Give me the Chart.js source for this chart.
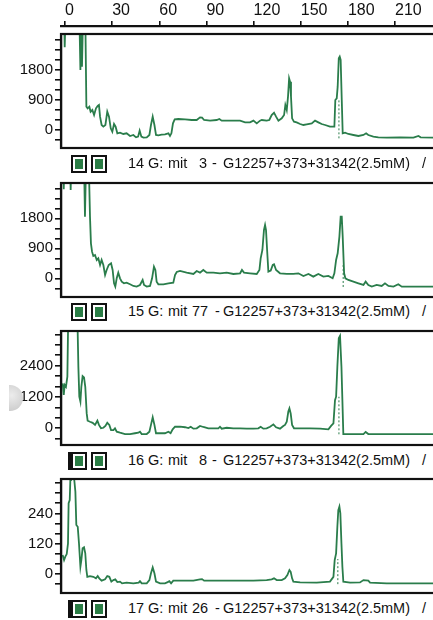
<!DOCTYPE html>
<html>
<head>
<meta charset="utf-8">
<script src="https://cdn.jsdelivr.net/npm/chart.js@4.4.1/dist/chart.umd.min.js"></script>
<style>
  html, body { margin: 0; padding: 0; background: #fff; overflow: hidden; width: 433px; height: 620px; }
  canvas { position: absolute; left: 0; }
  .sq { position: absolute; width: 16px; height: 18px; box-sizing: border-box; border: 2px solid #111;
        background: #2a7d45; box-shadow: inset 0 0 0 2px #fff; }
  .sq.dbl { border-left: 5px solid #111; width: 19px; left: 68px !important; }
  .t { position: absolute; font-family: "Liberation Sans", Arial, sans-serif; font-size: 14.5px;
       white-space: pre; color: #111; line-height: 17px; }
  #hole { position: absolute; left: 9px; top: 385px; width: 14px; height: 26px; border-radius: 0 13px 13px 0;
          background: radial-gradient(circle at 20% 40%, #ececec, #c6c6c6); }
</style>
</head>
<body>
<canvas id="axis" width="480" height="40" style="top:0px"></canvas>
<canvas id="c14" width="480" height="122" style="top:30px"></canvas>
<canvas id="c15" width="480" height="122" style="top:179px"></canvas>
<canvas id="c16" width="480" height="122" style="top:327px"></canvas>
<canvas id="c17" width="480" height="122" style="top:475px"></canvas>

<div class="sq" style="left:71px;top:155px"></div><div class="sq" style="left:91px;top:155px"></div>
<div class="t" style="top:155px;left:128px">14</div><div class="t" style="top:155px;left:148px">G:</div>
<div class="t" style="top:155px;left:168px">mit</div><div class="t" style="top:155px;left:199px">3</div>
<div class="t" style="top:155px;left:212px">-</div><div class="t" style="top:155px;left:223px">G12257+373+31342(2.5mM)</div>
<div class="t" style="top:155px;left:422px">/</div>

<div class="sq" style="left:71px;top:303px"></div><div class="sq" style="left:91px;top:303px"></div>
<div class="t" style="top:303px;left:128px">15</div><div class="t" style="top:303px;left:148px">G:</div>
<div class="t" style="top:303px;left:168px">mit</div><div class="t" style="top:303px;left:192px">77</div>
<div class="t" style="top:303px;left:215px">-</div><div class="t" style="top:303px;left:223px">G12257+373+31342(2.5mM)</div>
<div class="t" style="top:303px;left:422px">/</div>

<div class="sq dbl" style="left:71px;top:452px"></div><div class="sq" style="left:91px;top:452px"></div>
<div class="t" style="top:452px;left:128px">16</div><div class="t" style="top:452px;left:148px">G:</div>
<div class="t" style="top:452px;left:168px">mit</div><div class="t" style="top:452px;left:199px">8</div>
<div class="t" style="top:452px;left:212px">-</div><div class="t" style="top:452px;left:223px">G12257+373+31342(2.5mM)</div>
<div class="t" style="top:452px;left:422px">/</div>

<div class="sq dbl" style="left:71px;top:600px"></div><div class="sq" style="left:91px;top:600px"></div>
<div class="t" style="top:600px;left:128px">17</div><div class="t" style="top:600px;left:148px">G:</div>
<div class="t" style="top:600px;left:168px">mit</div><div class="t" style="top:600px;left:192px">26</div>
<div class="t" style="top:600px;left:215px">-</div><div class="t" style="top:600px;left:223px">G12257+373+31342(2.5mM)</div>
<div class="t" style="top:600px;left:422px">/</div>
<div id="hole"></div>

<script>
// size axis (shared by all lanes)
var sizeTicks = [0, 30, 60, 90, 120, 150, 180, 210, 240];
var xMin = -2.55, xMax = 257.7;
var traceColor = '#2a7d4b';

// lane 14 : mit 3
var lane14X = [-1.5,-0.6,-0.2,0.4,9.1,9.8,10.4,10.8,11.5,12.9,13.6,14.4,15.5,16.3,17.4,18.5,19.7,20.8,21.6,22.3,23.3,24.4,25.7,26.9,28.0,29.1,30.1,31.2,32.2,33.3,35.0,37.1,39.2,41.4,43.5,45.2,46.5,47.5,48.6,49.9,52.0,53.7,54.7,55.8,56.9,57.9,59.4,61.5,63.6,65.8,66.8,67.7,68.7,69.8,72.1,76.4,80.6,83.8,85.9,87.2,88.5,92.3,96.5,98.2,99.7,105.0,111.4,114.6,117.7,119.9,122.0,124.1,125.2,128.3,130.0,131.5,133.0,134.3,135.8,137.9,139.4,140.2,141.1,141.9,142.6,143.2,143.8,144.5,145.7,147.4,149.6,151.7,153.8,157.0,159.1,161.2,163.3,165.5,168.6,171.4,172.0,172.9,173.5,174.2,174.8,175.4,176.1,176.7,178.2,180.3,183.5,186.7,189.9,191.6,193.0,196.2,199.4,204.7,213.2,221.7,224.9,226.3,234.4,258];
var lane14Y = [3500,3500,2480,3500,3500,1800,3500,1900,3500,3500,700,650,700,550,600,450,650,720,750,400,150,100,150,550,400,50,-50,180,100,-100,-80,-120,-100,-180,-150,-220,-200,-20,-200,-230,-220,-150,150,400,150,-150,-160,-140,-130,-100,-180,-100,200,320,330,320,300,300,380,370,300,280,300,330,280,280,280,230,230,280,200,280,300,280,300,450,520,400,280,350,450,750,600,1000,1550,1450,1000,350,250,230,180,150,170,200,280,230,180,150,100,100,900,950,1300,2150,2200,2100,900,-100,-80,-120,-150,-180,-150,-100,-150,-200,-220,-230,-220,-230,-180,-220,-230,-230];
var mark14X = [174.3, 174.3], mark14Y = [-250, 900];

// lane 15 : mit 77
var lane15X = [-1.5,-1.1,-0.8,-0.4,3.2,3.6,4.0,12.1,12.7,13.4,15.1,15.9,16.5,17.2,18.0,19.1,20.2,21.2,22.3,23.3,24.4,25.5,26.5,27.8,29.3,30.3,31.2,32.0,32.9,33.9,35.0,36.1,37.5,39.2,41.4,43.5,45.6,47.7,49.4,50.3,52.0,54.1,55.4,56.6,57.5,58.3,59.4,62.6,65.8,68.9,70.0,71.1,73.2,77.4,81.7,83.8,85.9,88.0,90.2,94.4,98.6,102.9,107.1,111.4,112.6,113.9,117.7,122.0,123.7,124.5,125.6,126.6,127.3,127.9,128.6,129.4,130.9,132.2,133.0,134.3,136.8,141.1,145.3,148.5,151.7,154.9,158.0,161.2,164.4,167.6,170.3,171.4,172.5,173.5,174.6,175.4,176.1,176.7,177.6,178.4,180.3,183.5,186.7,189.9,191.3,193.0,195.2,198.3,201.5,203.6,205.8,209.0,212.1,214.3,234.4,258];
var lane15Y = [3500,3500,2670,3500,3500,2650,3500,3500,1850,3500,3500,1850,1050,800,670,700,550,600,400,550,400,100,250,400,450,250,-150,-250,0,170,0,-100,-150,-130,-180,-230,-250,-200,-50,-200,-250,-230,0,350,250,-100,-180,-180,-150,-130,100,190,220,170,130,220,170,250,170,170,150,170,130,150,250,170,150,130,250,600,850,1450,1600,1450,850,200,230,400,420,250,150,130,130,150,70,130,50,130,50,70,0,150,550,750,1250,1850,1850,1250,150,0,-50,-100,-150,-200,-100,-200,-250,-200,-230,-150,-230,-250,-180,-250,-250,-250];
var mark15X = [177.0, 177.0], mark15Y = [-260, 450];

// lane 16 : mit 8
var lane16X = [-1.5,-0.8,-0.2,0.6,1.5,2.1,7.8,8.5,9.1,9.8,10.4,11.2,12.1,12.9,13.8,14.4,15.9,17.6,19.1,20.6,21.6,22.9,24.4,25.7,26.9,28.2,29.3,30.8,31.8,32.9,35.0,38.2,41.4,44.5,46.7,47.7,48.8,52.0,53.7,54.7,55.8,56.9,57.9,60.5,63.6,65.8,67.2,68.5,70.0,73.2,76.4,78.5,80.0,81.7,83.8,85.9,88.0,91.2,94.4,97.6,98.6,99.7,102.9,107.1,111.4,115.6,119.9,123.0,124.5,126.2,128.3,130.5,132.6,134.3,136.8,138.9,140.0,141.1,142.1,142.8,143.6,144.5,145.7,149.6,155.9,162.3,167.6,169.3,170.8,171.8,172.5,173.3,174.2,175.0,175.9,176.5,177.1,183.5,189.9,191.3,193.0,234.4,258];
var lane16Y = [1720,1280,1660,1590,1980,4500,4500,2360,1210,1020,1590,2000,1950,1590,570,290,250,210,130,290,130,0,20,90,210,130,-70,-70,0,-130,-170,-220,-220,-190,-170,-130,-220,-220,-130,130,420,130,-190,-190,-190,-130,-190,-40,60,60,40,10,60,-15,0,90,50,0,0,0,60,-15,20,0,0,-15,-15,0,60,-15,0,60,150,40,-15,90,130,250,640,760,570,130,0,0,0,-15,-40,90,190,1080,1210,2360,3450,3540,2360,1080,-220,-220,-220,-140,-220,-220,-220];
var mark16X = [174.3, 174.3], mark16Y = [-230, 1210];

// lane 17 : mit 26
var lane17X = [-1.5,-0.6,0.2,1.1,1.9,2.3,3.0,3.4,3.8,5.3,5.9,6.6,7.2,8.1,8.9,9.8,10.4,11.2,12.1,12.9,13.6,14.2,15.9,18.0,19.7,20.8,21.8,23.3,25.5,26.9,28.2,29.5,30.8,32.0,33.3,35.0,36.3,39.2,43.5,46.9,47.7,48.8,52.0,53.7,54.7,55.8,56.9,57.9,60.5,63.6,65.3,66.4,67.5,68.9,73.2,77.4,81.7,85.9,87.2,88.5,94.4,102.9,111.4,119.9,128.3,131.5,133.0,134.7,137.9,140.0,141.5,142.8,143.6,144.5,145.3,149.6,160.2,168.6,170.8,171.6,172.5,173.3,173.9,174.6,175.2,175.9,176.5,177.1,181.4,187.7,189.9,193.0,194.1,204.7,234.4,258];
var lane17Y = [75,55,69,79,121,280,293,372,450,450,372,326,194,187,121,29,55,102,106,82,16,-11,-8,-11,-17,-8,-17,-26,-21,-8,-11,-30,-24,-21,-32,-30,-37,-34,-37,-34,-28,-37,-37,-24,3,26,3,-30,-37,-37,-32,-28,-37,-26,-26,-26,-26,-21,-20,-26,-26,-26,-26,-26,-24,-21,-17,-24,-24,-17,-4,16,9,-17,-30,-33,-34,-30,-11,55,82,187,253,267,240,121,29,-30,-34,-33,-24,-26,-34,-37,-37,-37];
var mark17X = [173.6, 173.6], mark17Y = [-40, 60];

var font = { family: '"Liberation Sans", Arial, sans-serif' };

var framePlugin = {
  id: 'frame',
  afterDraw: function (chart) {
    if (chart.canvas.id === 'axis') return;
    var a = chart.chartArea, c = chart.ctx;
    c.save();
    c.strokeStyle = '#111';
    c.lineWidth = 2.2;
    c.strokeRect(a.left, a.top, a.right - a.left, a.bottom - a.top);
    c.restore();
  }
};

function pts(xs, ys) {
  return xs.map(function (x, i) { return { x: x, y: ys[i] }; });
}

// top size scale
new Chart(document.getElementById('axis'), {
  type: 'line',
  data: { datasets: [] },
  options: {
    animation: false,
    responsive: false,
    layout: { padding: { left: 61, right: 10, top: 0, bottom: 0 } },
    plugins: { legend: { display: false }, tooltip: { enabled: false } },
    scales: {
      x: {
        type: 'linear', position: 'top', min: xMin, max: xMax,
        afterFit: function (s) { s.height = 26; s.paddingLeft = 0; s.paddingRight = 0; },
        afterBuildTicks: function (s) { s.ticks = sizeTicks.map(function (v) { return { value: v }; }); },
        grid: { drawOnChartArea: false, tickLength: 5, color: '#111', lineWidth: 1.6 },
        border: { display: true, color: '#111', width: 2.2 },
        ticks: { align: 'start', padding: 1, color: '#111', font: Object.assign({ size: 16 }, font) }
      },
      y: { display: false, min: 0, max: 1 }
    }
  },
  plugins: [framePlugin]
});

function lane(id, xs, ys, mx, my, yMin, yMax, step, labels) {
  new Chart(document.getElementById(id), {
    type: 'line',
    data: {
      datasets: [
        { data: pts(xs, ys), borderColor: traceColor, borderWidth: 1.8, pointRadius: 0, tension: 0 },
        { data: pts(mx, my), borderColor: traceColor, borderWidth: 1, borderDash: [2, 2], pointRadius: 0 }
      ]
    },
    options: {
      animation: false,
      responsive: false,
      layout: { padding: { left: 0, right: 10, top: 4, bottom: 4 } },
      plugins: { legend: { display: false }, tooltip: { enabled: false } },
      scales: {
        x: { type: 'linear', display: false, min: xMin, max: xMax },
        y: {
          min: yMin, max: yMax,
          afterFit: function (s) { s.width = 61; s.paddingTop = 0; s.paddingBottom = 0; },
          afterBuildTicks: function (s) {
            var t = [];
            for (var v = Math.ceil(yMin / step) * step; v <= yMax; v += step) t.push({ value: v });
            s.ticks = t;
          },
          grid: { drawOnChartArea: false, tickLength: 6, color: '#111', lineWidth: 1.6 },
          border: { display: true, color: '#111', width: 2.2 },
          ticks: {
            padding: 2, color: '#111', autoSkip: false,
            font: Object.assign({ size: 15 }, font),
            callback: function (v) { return labels.indexOf(Math.round(v)) >= 0 ? String(Math.round(v)) : ''; }
          }
        }
      }
    },
    plugins: [framePlugin]
  });
}

lane('c14', lane14X, lane14Y, mark14X, mark14Y, -540, 2880, 300, [0, 900, 1800]);
lane('c15', lane15X, lane15Y, mark15X, mark15Y, -561, 2860, 300, [0, 900, 1800]);
lane('c16', lane16X, lane16Y, mark16X, mark16Y, -640, 3727, 400, [0, 1200, 2400]);
lane('c17', lane17X, lane17Y, mark17X, mark17Y, -75, 376, 40, [0, 120, 240]);
</script>
</body>
</html>
